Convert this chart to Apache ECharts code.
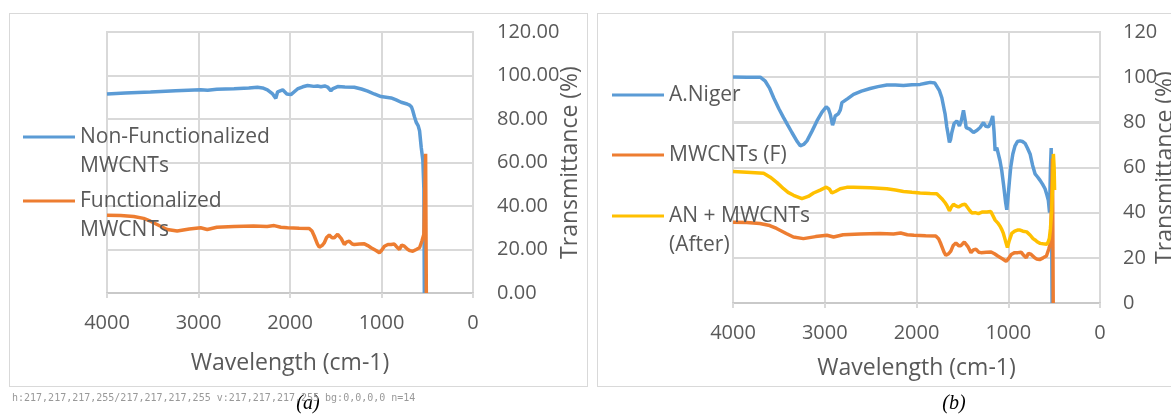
<!DOCTYPE html>
<html><head><meta charset="utf-8">
<script src="https://cdn.jsdelivr.net/npm/echarts/dist/echarts.min.js"></script>
<style>
html,body{margin:0;padding:0;background:#fff;overflow:hidden}
#wrap{position:relative;width:1171px;height:414px;overflow:hidden;background:#fff}
#under{position:absolute;left:0;top:0;width:1171px;height:414px;z-index:0}
#c{position:absolute;left:0;top:0;width:1171px;height:414px;z-index:1}
.frame{position:absolute;box-sizing:border-box;border:1.5px solid #d9d9d9;pointer-events:none;z-index:2}
#dbg{position:absolute;left:12px;top:392px;font:10px monospace;color:#999;z-index:3}
</style>
</head><body><div id="wrap"><div id="under"></div><div id="c"></div>
<div class="frame" style="left:9px;top:13px;width:579px;height:374px"></div>
<div class="frame" style="left:597px;top:13px;width:590px;height:374px"></div>
<div id="dbg"></div>
</div>
<script>
// ---- tick labels / categories ----
const xTicks = [4000, 3000, 2000, 1000, 0];
const yTickValues = [0, 20, 40, 60, 80, 100, 120];
const yTicksA = ['0.00','20.00','40.00','60.00','80.00','100.00','120.00'];
const yTicksB = ['0','20','40','60','80','100','120'];

// ---- (a) Non-Functionalized MWCNTs ----
const nfWave = [4000,3800,3525,3250,2977,2900,2800,2612,2450,2356,2300,2247,2190,2155,2135,2119,2080,2064,2035,2020,1990,1973,1918,1860,1808,1740,1700,1662,1620,1589,1553,1530,1479,1400,1297,1220,1151,1080,1005,950,895,840,785,720,694,672,658,640,621,600,584,566,548,537,532];
const nfT    = [91.5,91.9,92.4,93.0,93.5,93.2,93.7,93.9,94.2,94.6,94.3,93.4,91.5,89.5,92.5,93.3,93.4,93.0,91.5,90.8,91.2,91.8,93.8,94.8,95.4,95.0,95.2,94.8,95.2,94.7,93.0,94.0,94.9,94.7,94.6,93.8,92.8,91.5,90.3,90.0,89.7,88.8,87.7,86.9,86.4,85.5,83.8,81.0,78.5,77.0,74.6,67.0,61.0,48.0,0];

// ---- Functionalized MWCNTs  (same spectrum in (a) and (b) "MWCNTs (F)") ----
const fWave = [4000,3850,3708,3600,3525,3420,3342,3233,3100,2977,2904,2800,2612,2400,2250,2173,2100,2027,1900,1790,1760,1735,1700,1680,1650,1626,1600,1571,1540,1516,1479,1440,1406,1380,1352,1320,1297,1240,1187,1150,1114,1060,1023,1000,968,930,895,860,840,804,780,750,712,690,658,620,584,559,537,525,518,513,510];
const fT    = [35.8,35.6,35.2,34.3,33.0,30.8,29.2,28.5,29.4,30.0,29.2,30.2,30.6,30.8,30.6,31.0,30.2,30.0,29.8,29.7,28.5,26.2,22.5,21.1,21.8,23.0,25.5,26.6,25.4,25.4,27.0,25.0,22.3,23.5,23.8,22.5,22.3,22.5,22.6,21.8,20.8,19.5,18.5,19.5,21.5,22.3,22.3,22.5,21.5,20.0,22.0,21.5,20.0,19.5,19.2,20.0,20.8,23.8,27.0,27.5,64.0,64.0,0];

// ---- (b) A.Niger ----
const anWave = [4000,3850,3703,3648,3600,3557,3500,3449,3400,3358,3300,3267,3230,3194,3140,3085,3030,2984,2960,2940,2915,2900,2886,2850,2830,2813,2750,2686,2600,2505,2420,2323,2230,2142,2050,1960,1900,1851,1800,1779,1750,1724,1700,1688,1670,1659,1641,1628,1615,1590,1561,1545,1532,1510,1488,1470,1459,1420,1379,1340,1307,1270,1245,1216,1190,1169,1155,1143,1125,1107,1090,1071,1050,1030,1016,1000,985,973,950,926,900,871,845,817,790,762,735,708,680,653,625,599,580,563,550,540,532,524,522];
const anT    = [100.1,100,100,98.2,95,90.9,86,82.1,78.5,75.5,71.5,69.6,70.2,71.8,76,80.6,84.5,86.8,86,83.6,78.7,80.5,82.8,83.9,85.5,88.7,90.5,92.4,93.8,95,95.8,96.5,96.5,96.3,96.6,96.8,97.3,97.7,97.4,96.8,94,90.9,86,83.6,78,75.5,71.1,72.5,75.5,79.5,80.6,79.5,78.4,81,85.3,81,77.7,77,75.5,76.5,77.7,79.9,78.2,78,80,82.8,76,67.4,68.8,68.6,63,58.7,52,45,41.3,48,55,60.1,66,69.6,71.5,71.8,71.5,70.7,68.5,66,61,57.2,55.8,54.3,52.5,50.6,48,45.5,40,60,68.6,68,0];

// ---- (b) AN + MWCNTs (After) ----
const amWave = [4000,3850,3666,3594,3520,3449,3400,3340,3249,3180,3122,3050,2984,2950,2922,2880,2831,2760,2686,2500,2323,2230,2142,2050,1960,1850,1779,1724,1690,1670,1641,1620,1597,1570,1543,1500,1470,1430,1398,1360,1325,1280,1234,1190,1169,1143,1115,1089,1070,1053,1030,1009,990,962,930,900,871,840,799,760,730,708,680,653,620,581,565,552,540,526,515,508,500,495];
const amT    = [58.2,57.9,57.5,55.7,53.3,50.6,49,47.7,46.2,47.2,48.7,50,51.3,50.5,48.7,49.5,50.6,51.2,51.3,51,50.6,50,49.4,49,48.7,48.5,48.4,46.2,44.5,43.3,40.8,42.5,43.7,43,42.5,43.5,43.7,41.5,39.9,40,39.6,40.3,40.3,40.5,40.8,36.7,35.5,34,32.5,30.8,27.5,24.6,27.5,30.8,31.8,32.3,32.3,31.8,31.5,30,28.5,27.9,27,26.4,26.2,26,27,28.6,33,41,55,66,60,50];

const C_BLUE = '#5B9BD5', C_ORANGE = '#ED7D31', C_YELLOW = '#FFC000';
const TXT = '#595959', GRID = '#d9d9d9', AXIS = '#c9c9c9';
const FONT = '"Open Sans", "Noto Sans", sans-serif';

function zip(a, b) { return a.map((v, i) => [v, b[i]]); }

const chart = echarts.init(document.getElementById('c'), null, {renderer: 'canvas'});

function xAxis(gridIndex, nameGap) {
  return {
    gridIndex, type: 'value', min: 0, max: 4000, interval: 1000, inverse: true,
    name: 'Wavelength (cm-1)', nameLocation: 'middle', nameGap, nameMoveOverlap: false,
    nameTextStyle: {color: TXT, fontSize: 23, fontFamily: FONT},
    axisLine: {show: true, onZero: false, lineStyle: {color: AXIS, width: 2}},
    axisTick: {show: true, length: 5, lineStyle: {color: GRID, width: 2}},
    axisLabel: {color: TXT, fontSize: 20, fontFamily: FONT, margin: 20,
      formatter: v => xTicks.includes(v) ? String(v) : ''},
    splitLine: {show: true, lineStyle: {color: GRID, width: 2}}
  };
}
function yAxis(gridIndex, labels, margin, nameGap) {
  return {
    gridIndex, type: 'value', min: 0, max: 120, interval: 20, position: 'right',
    name: 'Transmittance (%)', nameLocation: 'middle', nameRotate: 90, nameGap, nameMoveOverlap: false,
    nameTextStyle: {color: TXT, fontSize: 23, fontFamily: FONT},
    axisLine: {show: false, onZero: false}, axisTick: {show: false},
    axisLabel: {color: TXT, fontSize: 20, fontFamily: FONT, margin,
      formatter: v => labels[Math.round(v / 20)]},
    splitLine: {show: true, lineStyle: {color: GRID, width: 2}}
  };
}
const LH = 29;
const legendText = {
  'Non-Functionalized MWCNTs': '\nNon-Functionalized\nMWCNTs',
  'Functionalized MWCNTs': '\nFunctionalized\nMWCNTs',
  'A.Niger': 'A.Niger',
  'MWCNTs (F)': 'MWCNTs (F)',
  'AN + MWCNTs (After)': '\nAN + MWCNTs\n(After)'
};
function legend(name, left, cy) {
  const lines = legendText[name].split('\n').length;
  return {
    data: [name], left, top: cy - lines * LH / 2, padding: 0, orient: 'vertical',
    icon: 'rect', itemWidth: 52, itemHeight: 3, selectedMode: false,
    formatter: n => legendText[n],
    textStyle: {color: TXT, fontSize: 21, fontFamily: FONT, lineHeight: LH}
  };
}
function line(name, xi, color, wave, vals) {
  return {
    name, type: 'line', xAxisIndex: xi, yAxisIndex: xi, data: zip(wave, vals),
    showSymbol: false, color, lineStyle: {width: 3.5}
  };
}

const GRIDS = [
  {left: 107, top: 32, width: 366, height: 261, outerBoundsMode: 'none'},
  {left: 733, top: 32, width: 367, height: 271, outerBoundsMode: 'none'}
];

chart.setOption({
  animation: false,
  grid: GRIDS,
  xAxis: [xAxis(0, 59), xAxis(1, 54)],
  yAxis: [yAxis(0, yTicksA, 24, 86), yAxis(1, yTicksB, 23, 54)],
  legend: [
    legend('Non-Functionalized MWCNTs', 23, 137),
    legend('Functionalized MWCNTs', 23, 201),
    legend('A.Niger', 612, 95),
    legend('MWCNTs (F)', 612, 155),
    legend('AN + MWCNTs (After)', 612, 216)
  ],
  series: [
    line('Non-Functionalized MWCNTs', 0, C_BLUE, nfWave, nfT),
    line('Functionalized MWCNTs', 0, C_ORANGE, fWave, fT),
    line('A.Niger', 1, C_BLUE, anWave, anT),
    line('MWCNTs (F)', 1, C_ORANGE, fWave, fT),
    line('AN + MWCNTs (After)', 1, C_YELLOW, amWave, amT)
  ],
  graphic: [
    {type: 'text', x: 308, y: 404, style: {text: '(a)', font: 'italic 20px "Liberation Serif", "Times New Roman", serif', fill: '#000', textAlign: 'center', textVerticalAlign: 'middle'}},
    {type: 'text', x: 954, y: 404, style: {text: '(b)', font: 'italic 20px "Liberation Serif", "Times New Roman", serif', fill: '#000', textAlign: 'center', textVerticalAlign: 'middle'}}
  ]
});

// Horizontal gridlines duplicated beneath the transparent canvas, at the y-scale's tick positions.
const under = document.getElementById('under');
let msg = '';
[0, 1].forEach(g => {
  yTickValues.forEach(v => {
    let p1, p2;
    try {
      p1 = chart.convertToPixel({xAxisIndex: g, yAxisIndex: g}, [4000, v]);
      p2 = chart.convertToPixel({xAxisIndex: g, yAxisIndex: g}, [0, v]);
    } catch (e) { msg = 'cvt:' + e.message; }
    if (!p1 || !p2 || isNaN(p1[1])) { msg = msg || 'cvt-none'; return; }
    const d = document.createElement('div');
    const x0 = Math.min(p1[0], p2[0]) - 1, w = Math.abs(p2[0] - p1[0]) + 2;
    d.style.cssText = 'position:absolute;left:' + x0 + 'px;width:' + w + 'px;top:' + (p1[1] - 1) + 'px;height:2px;background:' + (v === 0 ? AXIS : GRID);
    under.appendChild(d);
  });
});
try {
  const cv = document.querySelector('#c canvas');
  const dpr = window.devicePixelRatio || 1;
  const cx = cv.getContext('2d');
  const px = (x, y) => Array.from(cx.getImageData(Math.round(x * dpr), Math.round(y * dpr), 1, 1).data).join(',');
  msg += ' h:' + px(300, 249) + '/' + px(300, 250) + ' v:' + px(198, 150) + ' bg:' + px(300, 270) + ' n=' + under.children.length;
} catch (e) { msg += ' px:' + e.message; }
document.getElementById('dbg').textContent = msg;
</script></body></html>
